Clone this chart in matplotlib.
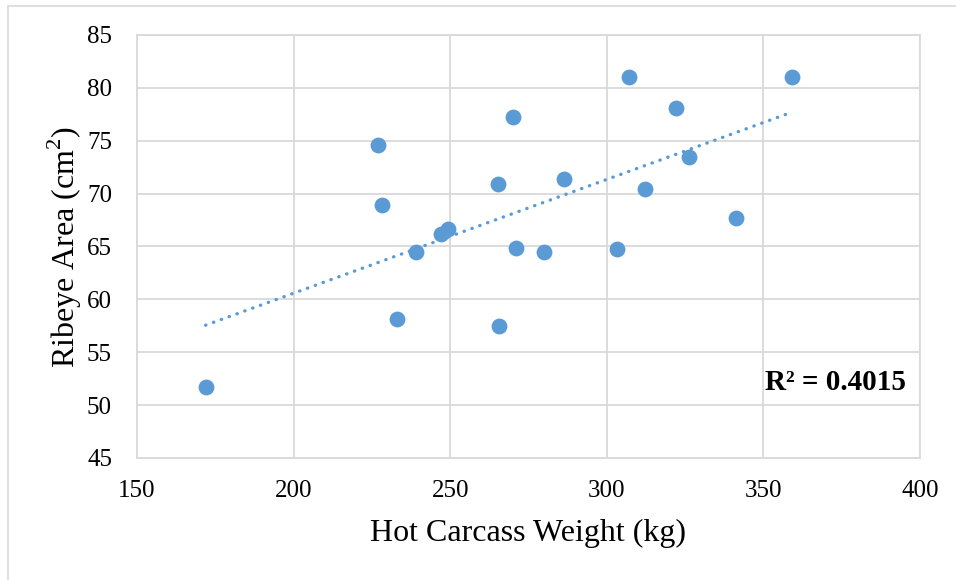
import numpy as np
import matplotlib
matplotlib.use('Agg')
import matplotlib.pyplot as plt
from matplotlib.patches import Rectangle

plt.rcParams['font.family'] = ['Liberation Serif', 'DejaVu Serif']
plt.rcParams['mathtext.fontset'] = 'custom'
plt.rcParams['mathtext.rm'] = 'Liberation Serif'

# hot carcass weight (kg) vs ribeye area (cm2)
hcw = [171.9, 227.0, 228.1, 233.1, 239.0, 247.0, 249.4, 265.4, 265.5, 270.2,
       271.1, 280.1, 286.3, 303.1, 307.1, 312.1, 322.2, 326.1, 341.3, 359.2]
rea = [51.7, 74.6, 68.9, 58.1, 64.5, 66.2, 66.7, 70.9, 57.5, 77.2,
       64.9, 64.5, 71.4, 64.8, 81.0, 70.4, 78.1, 73.5, 67.7, 81.0]
r2_txt = 'R² = 0.4015'

xticks = [150, 200, 250, 300, 350, 400]
yticks = [45, 50, 55, 60, 65, 70, 75, 80, 85]

azul = '#5B9BD5'
cinza = '#D9D9D9'

fig = plt.figure(figsize=(9.56, 5.8), dpi=100)
# borda externa (so aparece esquerda e topo)
fig.patches.append(Rectangle((8/956, -0.1), 1.2, 1.1 - 6/580, transform=fig.transFigure,
                             fill=False, edgecolor=cinza, linewidth=1.2))
ax = fig.add_axes([137/956, 122/580, 783/956, 423/580])

ax.scatter(hcw, rea, s=130, color=azul, zorder=3, linewidths=0)

# linha de tendencia linear
a, b = np.polyfit(hcw, rea, 1)
xt = np.array([min(hcw), max(hcw)])
ax.plot(xt, a*xt + b, color=azul, linewidth=2.4, linestyle=(0, (0.1, 2.4)),
        dash_capstyle='round', zorder=2)

ax.set_xlim(150, 400)
ax.set_ylim(45, 85)
ax.set_xticks(xticks)
ax.set_yticks(yticks)
ax.grid(True, color=cinza, linewidth=1.3)
ax.set_axisbelow(True)
for s in ax.spines.values():
    s.set_color(cinza)
    s.set_linewidth(1.3)
ax.tick_params(length=0, labelsize=18, pad=16)
ax.tick_params(axis='y', pad=18)

ax.set_xlabel('Hot Carcass Weight (kg)', fontsize=23, labelpad=12)
ax.set_ylabel('Ribeye Area (cm$^2$)', fontsize=23, labelpad=2)

ax.text(0.982, 0.178, r2_txt, transform=ax.transAxes, ha='right', va='center',
        fontsize=21, fontweight='bold')

plt.savefig('out.png', dpi=100)
